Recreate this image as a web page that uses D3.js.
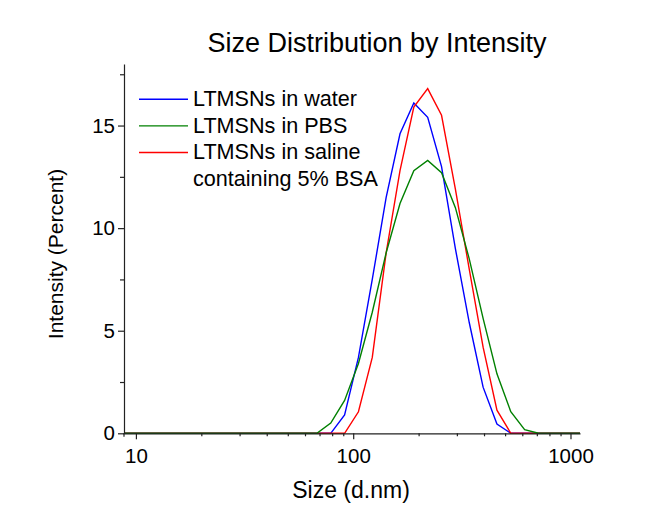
<!DOCTYPE html>
<html>
<head>
<meta charset="utf-8">
<script src="https://cdn.jsdelivr.net/npm/d3@7"></script>
<style>
  body { margin: 0; background: #fff; }
  text { font-family: "Liberation Sans", Arial, sans-serif; fill: #000; }
</style>
</head>
<body>
<div id="chart"></div>
<script>
// bin sizes (d.nm)
const sizes = [8.721, 10.1, 11.7, 13.54, 15.69, 18.17, 21.04, 24.36, 28.21, 32.67,
               37.84, 43.82, 50.75, 58.77, 68.06, 78.82, 91.28, 105.7, 122.4, 141.8,
               164.2, 190.1, 220.2, 255.0, 295.3, 342.0, 396.1, 458.7, 531.2, 615.1,
               712.4, 825.0, 955.4, 1106];

const water  = [0, 0, 0, 0, 0, 0, 0, 0, 0, 0, 0, 0, 0, 0, 0, 0, 0.9, 3.7, 7.5, 11.5,
                14.6, 16.1, 15.4, 13.0, 9.0, 5.4, 2.25, 0.45, 0, 0, 0, 0, 0, 0];
const pbs    = [0, 0, 0, 0, 0, 0, 0, 0, 0, 0, 0, 0, 0, 0, 0, 0.5, 1.6, 3.4, 5.9, 8.8,
                11.2, 12.8, 13.3, 12.7, 11.0, 8.5, 5.6, 2.9, 1.05, 0.18, 0, 0, 0, 0];
const saline = [0, 0, 0, 0, 0, 0, 0, 0, 0, 0, 0, 0, 0, 0, 0, 0, 0, 1.05, 3.7, 8.8,
                12.8, 15.9, 16.8, 15.5, 11.9, 8.0, 4.2, 1.13, 0, 0, 0, 0, 0, 0];

const legendLabels = ["LTMSNs in water", "LTMSNs in PBS", "LTMSNs in saline", "containing 5% BSA"];
const seriesColors = ["#0000ff", "#008000", "#ff0000"];

const xMajor = [10, 100, 1000];
const xMinor = [20, 30, 40, 50, 60, 70, 80, 90, 200, 300, 400, 500, 600, 700, 800, 900];
const yMajor = [0, 5, 10, 15];
const yMinor = [2.5, 7.5, 12.5, 17.5];

const W = 659, H = 512;

const svg = d3.select("#chart").append("svg")
    .attr("width", W)
    .attr("height", H);

const x = d3.scaleLog().domain([8.721, 1106]).range([123, 580]);
const y = d3.scaleLinear().domain([0, 18]).range([433.3, 64]);

svg.append("clipPath").attr("id", "plotClip")
    .append("rect")
    .attr("x", 124).attr("y", 40)
    .attr("width", 580 - 124).attr("height", 400);

const line = d3.line()
    .x((d, i) => x(sizes[i]))
    .y(d => y(d));

// blue first, red, green on top
const drawOrder = [[water, 0], [saline, 2], [pbs, 1]];
const gLines = svg.append("g").attr("clip-path", "url(#plotClip)");
drawOrder.forEach(([vals, ci]) => {
    gLines.append("path")
        .datum(vals)
        .attr("d", line)
        .attr("fill", "none")
        .attr("stroke", seriesColors[ci])
        .attr("stroke-width", 1.4)
        .attr("stroke-linejoin", "miter");
});

// x axis
svg.append("g")
    .attr("transform", "translate(0," + y(0) + ")")
    .call(d3.axisBottom(x).tickValues(xMajor).tickFormat(d3.format("d"))
        .tickSize(6).tickPadding(9).tickSizeOuter(0));
svg.append("g")
    .attr("transform", "translate(0," + y(0) + ")")
    .call(d3.axisBottom(x).tickValues(xMinor).tickFormat("").tickSize(3).tickSizeOuter(0))
    .select(".domain").remove();

// y axis
svg.append("g")
    .attr("transform", "translate(124,0)")
    .call(d3.axisLeft(y).tickValues(yMajor).tickSize(6).tickPadding(3).tickSizeOuter(0));
svg.append("g")
    .attr("transform", "translate(124,0)")
    .call(d3.axisLeft(y).tickValues(yMinor).tickFormat("").tickSize(4).tickSizeOuter(0))
    .select(".domain").remove();
// y axis line runs a little past the x axis
svg.append("line")
    .attr("x1", 124).attr("x2", 124)
    .attr("y1", y(0)).attr("y2", y(0) + 3.5)
    .attr("stroke", "#222").attr("stroke-width", 1.2);

svg.selectAll(".domain, .tick line").attr("stroke", "#222").attr("stroke-width", 1.2);
svg.selectAll(".tick text")
    .style("font-family", "'Liberation Sans', Arial, sans-serif")
    .style("font-size", "20.5px");

// titles
svg.append("text")
    .attr("x", 377).attr("y", 52)
    .attr("text-anchor", "middle")
    .style("font-size", "27px")
    .text("Size Distribution by Intensity");

svg.append("text")
    .attr("x", 351).attr("y", 498)
    .attr("text-anchor", "middle")
    .style("font-size", "23px")
    .text("Size (d.nm)");

svg.append("text")
    .attr("transform", "translate(63,254) rotate(-90)")
    .attr("text-anchor", "middle")
    .style("font-size", "21px")
    .text("Intensity (Percent)");

// legend
const legend = svg.append("g").attr("transform", "translate(139,99.3)");
const rowH = 26.6;
seriesColors.forEach((c, i) => {
    legend.append("line")
        .attr("x1", 0).attr("x2", 49)
        .attr("y1", i * rowH).attr("y2", i * rowH)
        .attr("stroke", c).attr("stroke-width", 1.4);
});
legendLabels.forEach((t, i) => {
    legend.append("text")
        .attr("x", 54).attr("y", i * rowH + 7)
        .style("font-size", "21.6px")
        .text(t);
});
</script>
</body>
</html>
